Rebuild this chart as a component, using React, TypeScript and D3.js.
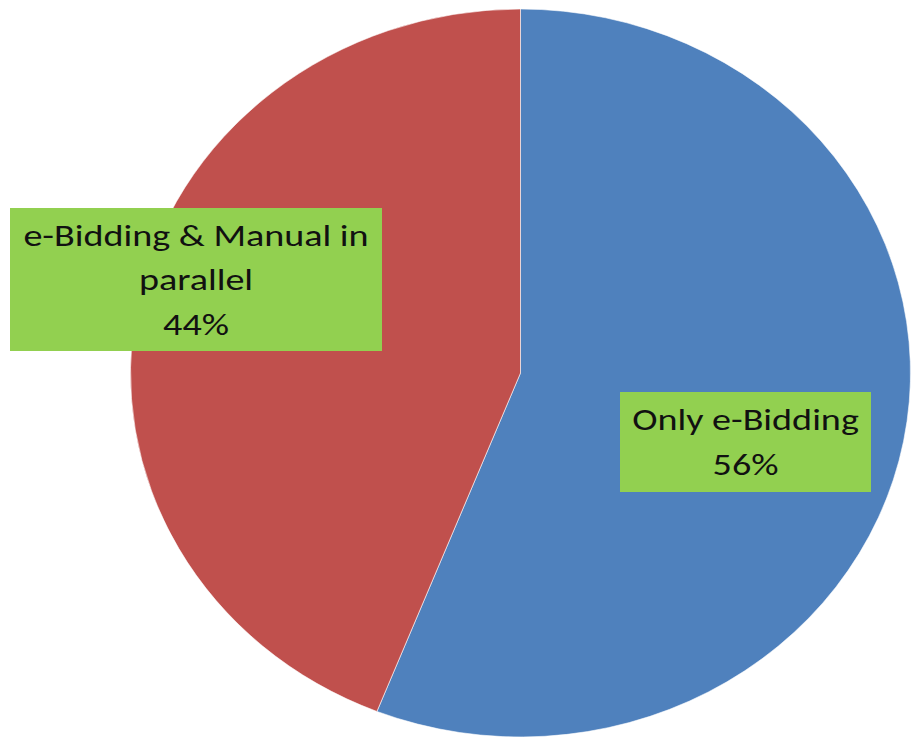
import { useEffect, useRef } from 'react';
import * as d3 from 'd3';

const categories = ['Only e-Bidding', 'e-Bidding & Manual in parallel'];
const values = [56, 44];
const labelLines = [
  ['Only e-Bidding', '56%'],
  ['e-Bidding & Manual in', 'parallel', '44%'],
];
const colors = ['#4F81BD', '#C0504D'];

const App = () => {
  const ref = useRef<SVGSVGElement | null>(null);

  useEffect(() => {
    if (!ref.current) return;
    const svg = d3.select(ref.current);
    svg.selectAll('*').remove();
    const width = 913;
    const height = 742;
    svg.attr('width', width).attr('height', height);

    const cx = 520.5;
    const cy = 373;
    const rx = 390;
    const ry = 364;

    const pie = d3.pie<number>().sort(null)(values);
    const arc = d3.arc<d3.PieArcDatum<number>>().innerRadius(0).outerRadius(rx);

    const g = svg
      .append('g')
      .attr('transform', `translate(${cx},${cy}) scale(1,${ry / rx})`);

    g.selectAll('path')
      .data(pie)
      .enter()
      .append('path')
      .attr('d', arc)
      .attr('fill', (_d, i) => colors[i])
      .attr('stroke', '#ffffff')
      .attr('stroke-width', 1)
      .attr('stroke-opacity', 0.6);

    // label boxes
    const boxes = [
      { x: 620, y: 392, w: 251, h: 100 },
      { x: 10, y: 208, w: 372, h: 143 },
    ];
    const lineH = 44.5;
    const sx = 1.27; // text in the source is stretched horizontally
    categories.forEach((_c, i) => {
      const b = boxes[i];
      const lines = labelLines[i];
      const lg = svg.append('g');
      lg.append('rect')
        .attr('x', b.x)
        .attr('y', b.y)
        .attr('width', b.w)
        .attr('height', b.h)
        .attr('fill', '#92D050');
      const mx = b.x + b.w / 2;
      const startY = b.y + b.h / 2 - ((lines.length - 1) * lineH) / 2;
      lines.forEach((t, j) => {
        lg.append('text')
          .attr('transform', `translate(${mx},${startY + j * lineH}) scale(${sx},1)`)
          .attr('dy', '0.35em')
          .attr('text-anchor', 'middle')
          .attr('font-family', 'Carlito, Calibri, Lato, sans-serif')
          .attr('font-size', 30)
          .attr('fill', '#111')
          .text(t);
      });
    });
  }, []);

  return <svg ref={ref} style={{ position: 'absolute', left: 0, top: 0 }} />;
};

export default App;
